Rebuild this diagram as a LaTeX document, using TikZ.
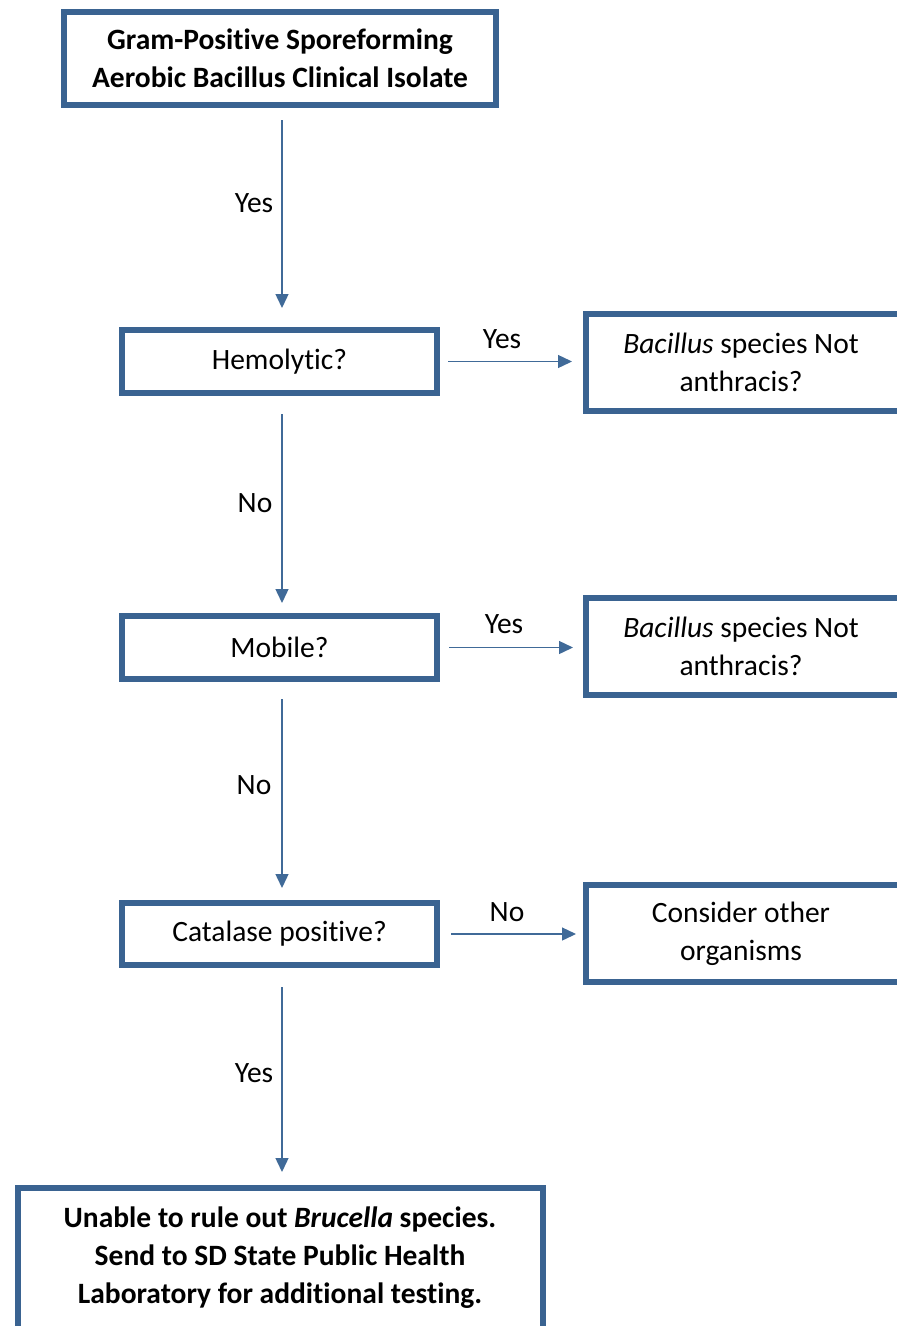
\documentclass[tikz,border=0pt]{standalone}
\usepackage{fontspec}
\setmainfont[Ligatures=NoCommon]{Carlito}
\usetikzlibrary{arrows.meta}
\definecolor{boxblue}{RGB}{58,99,145}
\definecolor{arrblue}{RGB}{64,106,152}
\begin{document}
\begin{tikzpicture}[x=1pt,y=-1pt,
  every node/.style={font=\fontsize{29.5}{38}\selectfont},
  bx/.style={draw=boxblue,line width=6pt,fill=white,align=center,inner sep=0pt},
  arr/.style={draw=arrblue,line width=1.4pt,-{Triangle[width=13pt,length=14pt]}},
  lbl/.style={inner sep=0pt}]
\useasboundingbox (0,0) rectangle (897,1326);
% boxes
\node[bx,minimum width=432pt,minimum height=93pt,font=\fontsize{29.5}{38}\selectfont\bfseries] (start) at (280,58.5) {Gram-Positive Sporeforming\\Aerobic Bacillus Clinical Isolate};
\node[bx,minimum width=315pt,minimum height=63pt] (hemo) at (279.5,361.5) {Hemolytic?};
\node[bx,minimum width=315pt,minimum height=63pt] (mob) at (279.5,647.5) {Mobile?};
\node[bx,minimum width=315pt,minimum height=62pt] (cat) at (279.5,934) {Catalase positive?};
\node[bx,minimum width=324pt,minimum height=97pt] (r1) at (748,362.5) {};
\node[bx,minimum width=324pt,minimum height=97pt] (r2) at (748,646.5) {};
\node[bx,minimum width=324pt,minimum height=97pt] (r3) at (748,933.5) {};
\node[lbl,align=center] (t1) at (741,362) {\textit{Bacillus} species Not\\anthracis?};
\node[lbl,align=center] (t2) at (741,646) {\textit{Bacillus} species Not\\anthracis?};
\node[lbl,align=center] (t3) at (741,934) {Consider other\\organisms};
\node[bx,minimum width=525pt,minimum height=160pt] (end) at (280.5,1268) {};
\node[lbl,align=center,font=\fontsize{29.5}{38}\selectfont\bfseries] (endt) at (280,1258) {Unable to rule out \textit{Brucella} species.\\Send to SD State Public Health\\Laboratory for additional testing.};
% arrows
\draw[arr,shorten <=12pt,shorten >=19pt] (start.south -| 282,0) -- (hemo.north -| 282,0);
\draw[arr,shorten <=8pt,shorten >=11pt] (hemo.east) -- (r1.west |- hemo.east);
\draw[arr,shorten <=18pt,shorten >=10pt] (hemo.south -| 282,0) -- (mob.north -| 282,0);
\draw[arr,shorten <=9pt,shorten >=10pt] (mob.east) -- (r2.west |- mob.east);
\draw[arr,shorten <=17pt,shorten >=12pt] (mob.south -| 282,0) -- (cat.north -| 282,0);
\draw[arr,shorten <=11pt,shorten >=7pt] (cat.east) -- (r3.west |- cat.east);
\draw[arr,shorten <=19pt,shorten >=13pt] (cat.south -| 282,0) -- (end.north -| 282,0);
% labels
\node[lbl] (l1) at (254,203) {Yes};
\node[lbl] (l2) at (502,339) {Yes};
\node[lbl] (l3) at (255,503) {No};
\node[lbl] (l4) at (504,624) {Yes};
\node[lbl] (l5) at (254,785) {No};
\node[lbl] (l6) at (507,912) {No};
\node[lbl] (l7) at (254,1073) {Yes};
\end{tikzpicture}
\end{document}
